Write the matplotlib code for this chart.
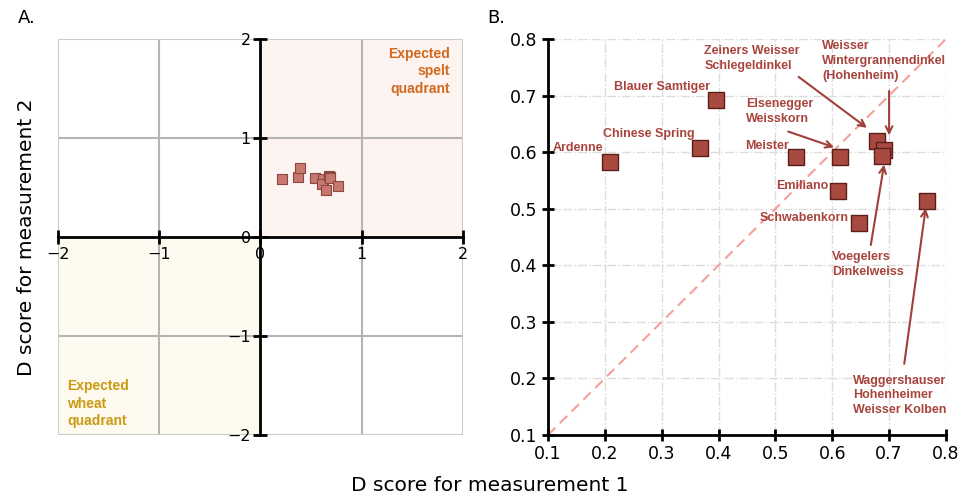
import matplotlib
matplotlib.use('Agg')
import matplotlib.pyplot as plt
from matplotlib.patches import Rectangle
import numpy as np

#data
names = ['Ardenne', 'Chinese Spring', 'Blauer Samtiger', 'Meister',
         'Elsenegger\nWeisskorn', 'Emiliano', 'Schwabenkorn',
         'Zeiners Weisser\nSchlegeldinkel',
         'Weisser\nWintergrannendinkel\n(Hohenheim)',
         'Voegelers\nDinkelweiss',
         'Waggershauser\nHohenheimer\nWeisser Kolben']
d1 = [0.210, 0.368, 0.395, 0.536, 0.613, 0.611, 0.647, 0.678, 0.691, 0.688, 0.767]
d2 = [0.582, 0.608, 0.693, 0.592, 0.591, 0.531, 0.475, 0.620, 0.603, 0.594, 0.514]

#label placement
label_x = [0.198, 0.358, 0.385, 0.524, 0.448, 0.594, 0.629, 0.375, 0.582, 0.600, 0.636]
label_y = [0.607, 0.632, 0.715, 0.611, 0.672, 0.540, 0.484, 0.765, 0.761, 0.402, 0.170]
label_ha = ['right', 'right', 'right', 'right', 'left', 'right', 'right', 'left', 'left', 'left', 'left']
#arrows: (tail x, tail y, head x, head y)
arrows = {4: (0.518, 0.638, 0.608, 0.607),
          7: (0.537, 0.736, 0.665, 0.640),
          8: (0.700, 0.713, 0.700, 0.625),
          9: (0.667, 0.431, 0.692, 0.583),
          10: (0.726, 0.221, 0.765, 0.506)}

lab_col = '#a8443d'
sans_b = 'Liberation Sans'

fig = plt.figure(figsize=(9.63, 4.94), dpi=100)

#=========================================================================
#PANEL A
#=========================================================================
axA = fig.add_axes([0.0602, 0.1194, 0.4206, 0.8016])
axA.set_xlim(-2, 2)
axA.set_ylim(-2, 2)
axA.add_patch(Rectangle((0, 0), 2, 2, color='#fdf3f1', zorder=0, lw=0))
axA.add_patch(Rectangle((-2, -2), 2, 2, color='#fefaef', zorder=0, lw=0))
for v in [-1, 1]:
    axA.axvline(v, color='#b5b5b5', lw=1.5, zorder=1)
    axA.axhline(v, color='#b5b5b5', lw=1.5, zorder=1)
axA.add_patch(Rectangle((-2, -2), 4, 4, fill=False, ec='#cccccc', lw=1.5, zorder=1))
for side in ['top', 'right']:
    axA.spines[side].set_visible(False)
for side in ['left', 'bottom']:
    axA.spines[side].set_position('zero')
    axA.spines[side].set_linewidth(2)
    axA.spines[side].set_zorder(3)
axA.set_xticks([-2, -1, 0, 1, 2])
axA.set_yticks([-2, -1, 0, 1, 2])
axA.tick_params(direction='inout', length=10, width=2, labelsize=11.5, pad=2)
axA.scatter(d1, d2, marker='s', s=60, facecolor='#c8776f', edgecolor='#8a4a42',
            linewidth=0.8, zorder=4)
axA.text(1.87, 1.92, 'Expected\nspelt\nquadrant', ha='right', va='top',
         color='#d2691e', fontsize=10, fontweight='bold', family=sans_b,
         linespacing=1.3)
axA.text(-1.91, -1.93, 'Expected\nwheat\nquadrant', ha='left', va='bottom',
         color='#c99a12', fontsize=10, fontweight='bold', family=sans_b,
         linespacing=1.3)

#=========================================================================
#PANEL B
#=========================================================================
axB = fig.add_axes([0.569, 0.1194, 0.4133, 0.8016])
axB.set_xlim(0.1, 0.8)
axB.set_ylim(0.1, 0.8)
ticks = np.round(np.arange(0.1, 0.81, 0.1), 1)
axB.set_xticks(ticks)
axB.set_yticks(ticks)
axB.grid(True, color='#dcdcdc', linestyle='-.', lw=1)
axB.set_axisbelow(True)
for side in ['top', 'right']:
    axB.spines[side].set_visible(False)
for side in ['left', 'bottom']:
    axB.spines[side].set_linewidth(2)
axB.tick_params(direction='inout', length=9, width=2, labelsize=12.5, pad=3)
axB.plot([0.1, 0.8], [0.1, 0.8], color='#f5a09a', lw=1.5, dashes=(5, 3), zorder=2)
axB.scatter(d1, d2, marker='s', s=120, facecolor='#a84a40', edgecolor='#5a2018',
            linewidth=1, zorder=4)

for i, name in enumerate(names):
    axB.text(label_x[i], label_y[i], name, ha=label_ha[i], va='center',
             color=lab_col, fontsize=9, fontweight='bold', family=sans_b,
             linespacing=1.3, zorder=5)
for i, (x0, y0, x1, y1) in arrows.items():
    axB.annotate('', xy=(x1, y1), xytext=(x0, y0),
                 arrowprops=dict(arrowstyle='->', color='#a0403a', lw=1.5,
                                 mutation_scale=12), zorder=5)

#shared labels
fig.text(490 / 963, 1 - 485 / 494, 'D score for measurement 1', ha='center',
         va='center', fontsize=14.5)
fig.text(27 / 963, 0.52, 'D score for measurement 2', ha='center', va='center',
         rotation=90, fontsize=14.5)
fig.text(18 / 963, 1 - 18 / 494, 'A.', ha='left', va='center', fontsize=13)
fig.text(487 / 963, 1 - 18 / 494, 'B.', ha='left', va='center', fontsize=13)

plt.savefig('out.png', dpi=100)
